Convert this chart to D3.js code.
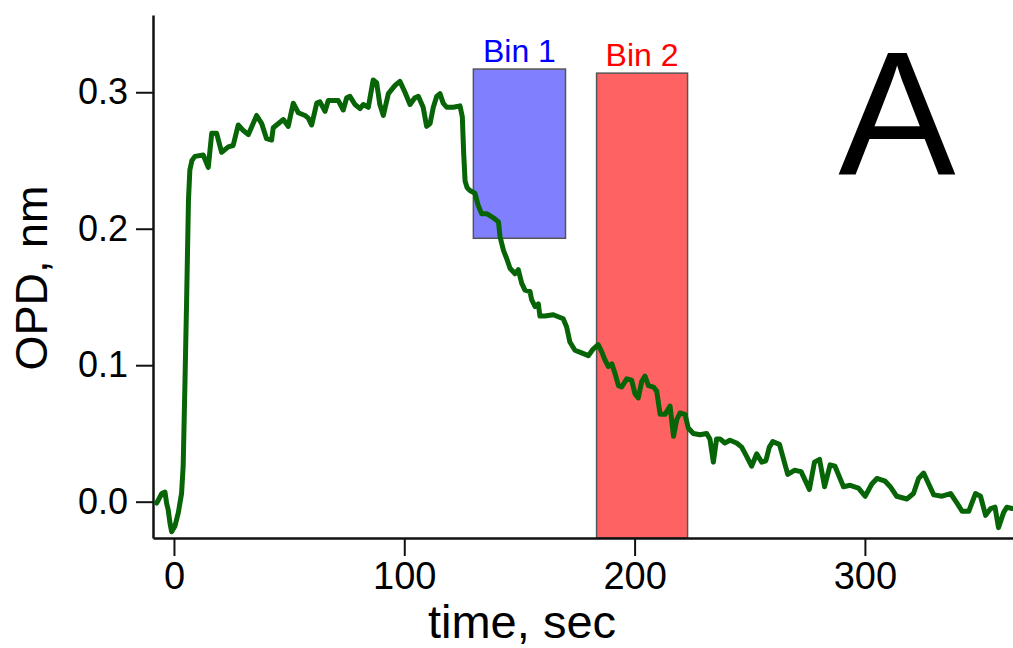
<!DOCTYPE html>
<html>
<head>
<meta charset="utf-8">
<script src="https://cdn.jsdelivr.net/npm/d3@7"></script>
<style>
    body { margin: 0; background: #fff; }
    svg { display: block; font-family: "Liberation Sans", Arial, sans-serif; }
</style>
</head>
<body>
<svg id="chart" width="1013" height="648"></svg>
<script>
// OPD trace
const time = [
    -7.5, -5.3, -3.9, -3.2, -2.5, -1.7, -1.0, 0.4, 1.9, 3.3, 4.0, 4.8, 5.5, 6.3, 6.9, 7.8,
    9.1, 12.7, 14.9, 16.4, 18.5, 20.7, 23.6, 25.7, 27.9, 30.1, 32.3, 35.9, 38.1, 40.2, 42.4, 43.1,
    47.5, 49.6, 51.8, 54.0, 56.9, 58.3, 59.8, 62.0, 63.4, 65.6, 67.0, 69.2, 71.3, 73.5, 75.0, 76.4,
    78.6, 80.8, 82.2, 84.4, 86.5, 88.0, 89.4, 90.9, 93.1, 96.0, 98.1, 100.3, 102.5, 104.6, 106.1,
    108.2, 109.7, 111.2, 112.6, 114.1, 115.5, 116.9, 118.4, 121.3, 124.2, 125.2, 125.8, 126.4, 127.3,
    128.5, 130.7, 132.1, 133.6, 135.8, 138.7, 140.9, 141.6, 143.1, 144.5, 145.9, 148.1, 149.5, 151.0,
    152.4, 154.6, 155.3, 156.8, 158.2, 158.9, 161.1, 164.7, 169.0, 170.5, 171.9, 174.1, 177.0, 179.9,
    182.1, 184.2, 185.7, 187.1, 188.6, 190.1, 191.5, 193.0, 194.4, 196.6, 198.7, 200.2, 201.6, 203.1,
    204.5, 206.0, 208.2, 209.6, 211.1, 213.2, 215.4, 216.9, 218.3, 219.7, 221.9, 223.3, 225.5, 228.4,
    231.3, 232.7, 234.2, 235.6, 237.1, 239.2, 241.4, 244.3, 246.5, 248.7, 250.8, 253.0, 255.2, 257.0,
    258.5, 260.0, 262.9, 266.5, 269.4, 272.3, 275.9, 278.1, 280.3, 282.5, 284.9, 287.0, 290.7, 293.6,
    297.2, 300.1, 303.0, 305.2, 308.8, 311.0, 313.8, 318.2, 321.1, 323.3, 325.5, 327.7, 329.9, 333.5,
    337.2, 340.0, 342.2, 345.1, 348.0, 350.2, 352.4, 354.6, 356.5, 358.0, 360.2, 361.6, 363.8
];
const opd = [
    -0.001, 0.006, 0.007, -0.001, -0.006, -0.016, -0.022, -0.018, -0.008, 0.006, 0.026, 0.089, 0.148, 0.221, 0.243, 0.250,
    0.253, 0.254, 0.245, 0.270, 0.270, 0.256, 0.260, 0.261, 0.276, 0.272, 0.269, 0.283, 0.277, 0.266, 0.265, 0.274,
    0.280, 0.275, 0.292, 0.285, 0.283, 0.281, 0.276, 0.292, 0.293, 0.286, 0.294, 0.294, 0.294, 0.287, 0.296, 0.297,
    0.291, 0.288, 0.291, 0.289, 0.309, 0.307, 0.291, 0.283, 0.299, 0.305, 0.308, 0.300, 0.291, 0.296, 0.297,
    0.289, 0.275, 0.277, 0.289, 0.297, 0.299, 0.292, 0.289, 0.289, 0.290, 0.282, 0.255, 0.235, 0.230,
    0.228, 0.226, 0.217, 0.211, 0.211, 0.208, 0.205, 0.194, 0.184, 0.178, 0.171, 0.167, 0.170, 0.160,
    0.155, 0.154, 0.148, 0.143, 0.145, 0.136, 0.136, 0.137, 0.134, 0.128, 0.117, 0.111, 0.109, 0.107,
    0.112, 0.115, 0.110, 0.104, 0.099, 0.101, 0.094, 0.085, 0.084, 0.090, 0.089, 0.079, 0.076, 0.088,
    0.092, 0.085, 0.084, 0.081, 0.064, 0.064, 0.070, 0.048, 0.060, 0.065, 0.064, 0.054, 0.050, 0.049,
    0.050, 0.046, 0.029, 0.046, 0.046, 0.043, 0.045, 0.043, 0.040, 0.033, 0.026, 0.035, 0.029, 0.030,
    0.040, 0.044, 0.042, 0.020, 0.023, 0.022, 0.009, 0.029, 0.031, 0.011, 0.027, 0.026, 0.011, 0.012,
    0.010, 0.004, 0.013, 0.017, 0.015, 0.011, 0.004, 0.002, 0.006, 0.017, 0.021, 0.013, 0.005, 0.004,
    0.006, -0.001, -0.007, -0.007, 0.006, 0.004, -0.010, -0.005, -0.004, -0.019, -0.008, -0.004, -0.005
];

// shaded bins: [start, end] in sec, top/bottom in nm
const binNames = ["Bin 1", "Bin 2"];
const binStart = [130, 183.5];
const binEnd = [170, 223];
const binTop = [0.317, 0.314];
const binBottom = [0.193, -0.0266];
const binFill = ["#8080ff", "#ff6262"];
const binTextColor = ["#0000ff", "#ff0000"];

const xTicks = [0, 100, 200, 300];
const yTicks = [0, 0.1, 0.2, 0.3];

const svg = d3.select("#chart");

const x = d3.scaleLinear().domain([-9.1, 364.3]).range([153, 1013]);
const y = d3.scaleLinear().domain([-0.0266, 0.3566]).range([538, 15]);

// Bins go under the trace
const bins = binNames.map((name, i) => ({
    name, x0: binStart[i], x1: binEnd[i], top: binTop[i], bottom: binBottom[i],
    fill: binFill[i], color: binTextColor[i]
}));

svg.selectAll("rect.bin")
    .data(bins)
    .join("rect")
    .attr("class", "bin")
    .attr("x", d => x(d.x0))
    .attr("y", d => y(d.top))
    .attr("width", d => x(d.x1) - x(d.x0))
    .attr("height", d => y(d.bottom) - y(d.top))
    .attr("fill", d => d.fill)
    .attr("stroke", "#555")
    .attr("stroke-width", 1.5);

svg.selectAll("text.binlabel")
    .data(bins)
    .join("text")
    .attr("class", "binlabel")
    .attr("x", d => (x(d.x0) + x(d.x1)) / 2)
    .attr("y", d => y(d.top) - 7)
    .attr("text-anchor", "middle")
    .attr("font-size", 32)
    .attr("fill", d => d.color)
    .text(d => d.name);

// Axes
const xAxis = d3.axisBottom(x).tickValues(xTicks).tickSize(18).tickSizeOuter(0).tickPadding(6);
const yAxis = d3.axisLeft(y).tickValues(yTicks).tickSize(17).tickSizeOuter(0).tickPadding(8)
    .tickFormat(d3.format(".1f"));

const gx = svg.append("g").attr("transform", `translate(0,${y.range()[0]})`).call(xAxis);
const gy = svg.append("g").attr("transform", `translate(${x.range()[0]},0)`).call(yAxis);

[gx, gy].forEach(g => {
    g.select(".domain").attr("stroke", "#111").attr("stroke-width", 2.5);
    g.selectAll(".tick line").attr("stroke", "#111").attr("stroke-width", 2);
    g.selectAll(".tick text").attr("fill", "#000").attr("font-family", "Liberation Sans, Arial, sans-serif");
});
gx.selectAll(".tick text").attr("font-size", 38);
gy.selectAll(".tick text").attr("font-size", 36);

// Trace
const points = time.map((t, i) => [t, opd[i]]);
const line = d3.line().x(d => x(d[0])).y(d => y(d[1]));

svg.append("path")
    .datum(points)
    .attr("d", line)
    .attr("fill", "none")
    .attr("stroke", "#076407")
    .attr("stroke-width", 5)
    .attr("stroke-linejoin", "round")
    .attr("stroke-linecap", "round");

// Titles
svg.append("text")
    .attr("x", 522)
    .attr("y", 638)
    .attr("text-anchor", "middle")
    .attr("font-size", 47)
    .text("time, sec");

svg.append("text")
    .attr("transform", "translate(47,278) rotate(-90)")
    .attr("text-anchor", "middle")
    .attr("font-size", 45)
    .text("OPD, nm");

svg.append("text")
    .attr("x", 897)
    .attr("y", 175)
    .attr("text-anchor", "middle")
    .attr("font-size", 176)
    .text("A");
</script>
</body>
</html>
